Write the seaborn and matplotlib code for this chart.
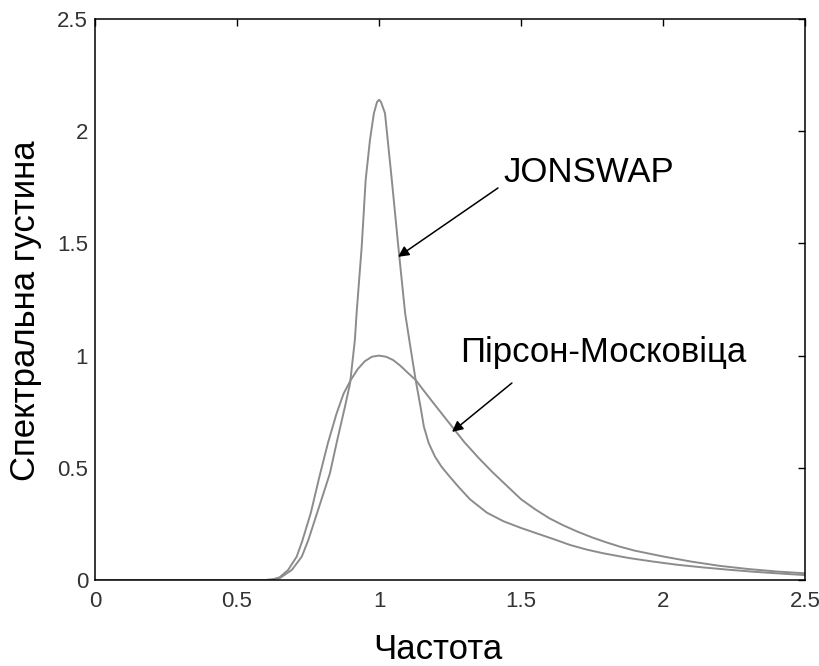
import numpy as np
import pandas as pd
import matplotlib
matplotlib.use("Agg")
import matplotlib.pyplot as plt
import seaborn as sns

# Frequencies and spectral densities
pm_freq = [0.0, 0.6, 0.625, 0.65, 0.68, 0.71, 0.73, 0.76, 0.79, 0.82, 0.85, 0.875,
           0.9, 0.925, 0.95, 0.975, 1.0, 1.025, 1.05, 1.075, 1.1, 1.13, 1.16,
           1.2, 1.25, 1.3, 1.35, 1.4, 1.45, 1.5, 1.55, 1.6, 1.65, 1.7, 1.75,
           1.8, 1.85, 1.9, 1.95, 2.0, 2.1, 2.2, 2.3, 2.4, 2.5]
pm_dens = [0.0, 0.0, 0.003, 0.012, 0.045, 0.104, 0.175, 0.30, 0.46, 0.61, 0.74,
           0.83, 0.89, 0.94, 0.975, 0.995, 1.0, 0.995, 0.98, 0.955, 0.925, 0.89,
           0.84, 0.775, 0.695, 0.615, 0.545, 0.48, 0.42, 0.36, 0.315, 0.275,
           0.243, 0.215, 0.19, 0.168, 0.148, 0.131, 0.118, 0.105, 0.082, 0.063,
           0.049, 0.038, 0.030]

js_freq = [0.0, 0.6, 0.625, 0.65, 0.693, 0.728, 0.751, 0.79, 0.827, 0.853, 0.88,
           0.898, 0.915, 0.921, 0.939, 0.953, 0.968, 0.982, 0.993, 1.0, 1.007,
           1.021, 1.045, 1.068, 1.092, 1.109, 1.129, 1.145, 1.158, 1.175, 1.197,
           1.22, 1.246, 1.28, 1.32, 1.38, 1.438, 1.5, 1.555, 1.62, 1.673, 1.73,
           1.79, 1.88, 1.966, 2.05, 2.142, 2.23, 2.318, 2.4, 2.5]
js_dens = [0.0, 0.0, 0.002, 0.008, 0.045, 0.104, 0.178, 0.33, 0.475, 0.624, 0.772,
           0.876, 1.07, 1.188, 1.485, 1.783, 1.96, 2.08, 2.13, 2.14, 2.13,
           2.08, 1.783, 1.485, 1.188, 1.05, 0.891, 0.78, 0.683, 0.61, 0.55,
           0.505, 0.465, 0.415, 0.36, 0.30, 0.262, 0.232, 0.208, 0.18, 0.156,
           0.136, 0.119, 0.098, 0.082, 0.068, 0.056, 0.046, 0.037, 0.030, 0.022]

x_ticks = [0, 0.5, 1, 1.5, 2, 2.5]
y_ticks = [0, 0.5, 1, 1.5, 2, 2.5]
x_tick_labels = ["0", "0.5", "1", "1.5", "2", "2.5"]
y_tick_labels = ["0", "0.5", "1", "1.5", "2", "2.5"]

label_js = "JONSWAP"
label_pm = "Пірсон-Московіца"
x_label = "Частота"
y_label = "Спектральна густина"

sns.set_style("white")
plt.rcParams["font.family"] = ["Liberation Sans", "DejaVu Sans"]

fig = plt.figure(figsize=(8.2, 6.66), dpi=100)
ax = fig.add_axes([0.1159, 0.1291, 0.8658, 0.8424])

df_pm = pd.DataFrame({"f": pm_freq, "S": pm_dens})
df_js = pd.DataFrame({"f": js_freq, "S": js_dens})
line_color = "#8c8c8c"
sns.lineplot(data=df_pm, x="f", y="S", ax=ax, color=line_color, linewidth=1.4,
             sort=False, estimator=None)
sns.lineplot(data=df_js, x="f", y="S", ax=ax, color=line_color, linewidth=1.4,
             sort=False, estimator=None)

ax.set_xlim(0, 2.5)
ax.set_ylim(0, 2.5)
ax.set_xticks(x_ticks)
ax.set_xticklabels(x_tick_labels)
ax.set_yticks(y_ticks)
ax.set_yticklabels(y_tick_labels)
ax.tick_params(direction="in", length=5, width=1, top=True, right=True,
               labelsize=16, labelcolor="#333333", colors="black")
ax.tick_params(axis="x", pad=8)
ax.tick_params(axis="y", pad=5)
for sp in ax.spines.values():
    sp.set_visible(True)
    sp.set_color("black")
    sp.set_linewidth(1.1)

ax.set_xlabel(x_label, fontsize=25, color="black")
ax.set_ylabel(y_label, fontsize=25, color="black")
ax.xaxis.set_label_coords(0.483, -0.094)
ax.yaxis.set_label_coords(-0.075, 0.48)

arrow_kw = dict(arrowstyle="-|>", color="black", lw=1.1,
                mutation_scale=16, shrinkA=0, shrinkB=0)
ax.text(1.437, 1.774, label_js, fontsize=25, color="black",
        ha="left", va="baseline")
ax.annotate("", xy=(1.067, 1.44), xytext=(1.419, 1.747), arrowprops=arrow_kw)
ax.text(1.285, 0.971, label_pm, fontsize=25, color="black",
        ha="left", va="baseline")
ax.annotate("", xy=(1.257, 0.66), xytext=(1.468, 0.878), arrowprops=arrow_kw)

fig.savefig("out.png", dpi=100, facecolor="white")
